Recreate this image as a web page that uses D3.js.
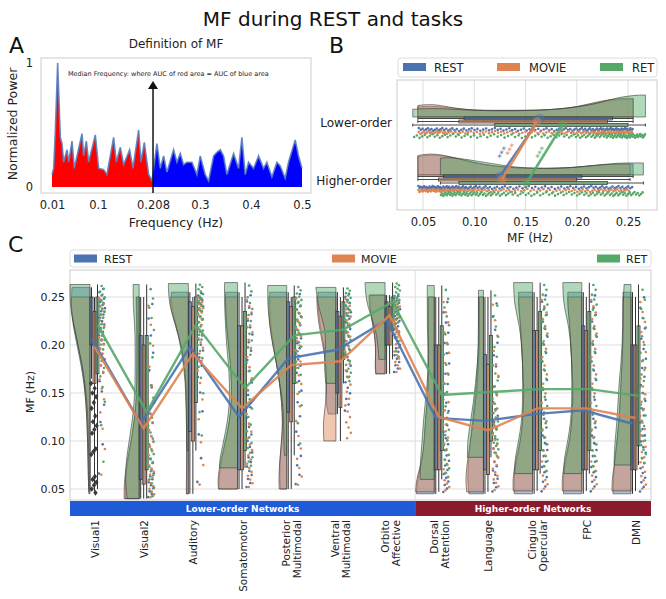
<!DOCTYPE html>
<html><head><meta charset="utf-8">
<script src="https://cdn.jsdelivr.net/npm/d3@7"></script>
<style>body{margin:0;background:#fff}svg{font-family:"DejaVu Sans",sans-serif}</style>
</head><body><svg id="c" width="666" height="599"></svg>
<script>
// ---------------- DATA ----------------
// Panel A: example power spectrum
const specFreq = [0.010,0.0133,0.0165,0.0211,0.0263,0.0296,0.0329,0.0394,0.0427,0.0492,0.0537,0.0688,0.0720,0.0773,0.0818,0.0949,0.1014,0.1112,0.1177,0.1308,0.1360,0.1439,0.1504,0.1621,0.1687,0.1798,0.1844,0.1909,0.1994,0.2059,0.2157,0.2222,0.2288,0.2353,0.2483,0.2549,0.2614,0.2679,0.2745,0.2843,0.2941,0.3006,0.3104,0.3169,0.3267,0.3332,0.3398,0.3463,0.3528,0.3659,0.3757,0.3822,0.3887,0.3953,0.4051,0.4149,0.4247,0.4312,0.4410,0.4508,0.4573,0.4671,0.4736,0.4867,0.4932,0.500];
const specPower = [0.10,0.15,0.45,1.00,0.40,0.35,0.20,0.30,0.20,0.37,0.15,0.43,0.25,0.37,0.20,0.42,0.15,0.14,0.10,0.40,0.20,0.32,0.18,0.30,0.15,0.46,0.20,0.36,0.10,0.05,0.35,0.15,0.25,0.12,0.30,0.20,0.27,0.18,0.20,0.20,0.10,0.25,0.10,0.05,0.25,0.28,0.30,0.25,0.10,0.27,0.15,0.40,0.10,0.20,0.15,0.25,0.15,0.20,0.08,0.20,0.17,0.07,0.20,0.38,0.25,0.15];
const medianFreq = 0.208;
const specTicks = [0.01,0.1,0.208,0.3,0.4,0.5];

const conditions = ["REST","MOVIE","RET"];
const densityGrid = [0.04,0.06,0.08,0.10,0.12,0.14,0.16,0.18,0.20,0.22,0.24,0.26];

// Panel B: grouped networks
const groups = ["Lower-order","Higher-order"];
const bRestDensity  = [[.45,.5,.4,.3,.3,.3,.3,.35,.45,.65,.8,.8],[.8,.95,.8,.55,.4,.32,.3,.3,.35,.45,.5,.5]];
const bMovieDensity = [[.5,.6,.4,.3,.3,.3,.3,.35,.45,.7,.85,.85],[.85,1,.8,.55,.4,.32,.3,.3,.35,.45,.5,.5]];
const bRetDensity   = [[.35,.4,.35,.3,.28,.28,.3,.35,.45,.6,.9,1],[.75,.75,.8,.65,.5,.35,.3,.3,.35,.45,.55,.55]];
const bRestMin = [0.045,0.045], bRestMax = [0.255,0.255];
const bMovieMin = [0.045,0.045], bMovieMax = [0.255,0.252];
const bRetMin = [0.040,0.067], bRetMax = [0.267,0.265];
const bRestQ1 = [0.09,0.07], bRestQ3 = [0.235,0.205];
const bMovieQ1 = [0.085,0.065], bMovieQ3 = [0.23,0.20];
const bRetQ1 = [0.12,0.085], bRetQ3 = [0.25,0.23];
const bRestMedian = [0.164,0.125];
const bMovieMedian = [0.161,0.127];
const bRetMedian = [0.186,0.151];
const bTicks = [0.05,0.10,0.15,0.20,0.25];

// Panel C: per network
const networks = ["Visual1","Visual2","Auditory","Somatomotor","Posterior Multimodal","Ventral Multimodal","Orbito Affective","Dorsal Attention","Language","Cingulo Opercular","FPC","DMN"];
const networkLabelLines = [["Visual1"],["Visual2"],["Auditory"],["Somatomotor"],["Posterior","Multimodal"],["Ventral","Multimodal"],["Orbito","Affective"],["Dorsal","Attention"],["Language"],["Cingulo","Opercular"],["FPC"],["DMN"]];
const lowerCount = 7;
const restMedian  = [0.207,0.118,0.198,0.125,0.186,0.195,0.226,0.124,0.121,0.128,0.132,0.118];
const movieMedian = [0.198,0.113,0.191,0.134,0.179,0.183,0.231,0.125,0.111,0.134,0.134,0.124];
const retMedian   = [0.221,0.130,0.221,0.155,0.210,0.216,0.245,0.148,0.151,0.154,0.154,0.147];
const restMin  = [0.045,0.040,0.045,0.050,0.050,0.128,0.170,0.045,0.045,0.045,0.045,0.045];
const restMax  = [0.260,0.250,0.255,0.255,0.255,0.255,0.252,0.250,0.250,0.255,0.255,0.255];
const movieMin = [0.047,0.040,0.045,0.050,0.050,0.100,0.170,0.047,0.047,0.048,0.048,0.048];
const movieMax = [0.250,0.250,0.250,0.250,0.250,0.250,0.252,0.250,0.250,0.250,0.250,0.250];
const retMin   = [0.050,0.040,0.090,0.072,0.085,0.160,0.185,0.060,0.083,0.066,0.066,0.075];
const retMax   = [0.263,0.263,0.264,0.265,0.262,0.260,0.265,0.262,0.257,0.265,0.265,0.263];
const restWhiskerLo = [0.165,0.040,0.045,0.050,0.050,0.128,0.170,0.045,0.045,0.045,0.045,0.045];
const restQ1  = [0.200,0.060,0.110,0.070,0.130,0.150,0.200,0.070,0.070,0.070,0.070,0.070];
const restQ3  = [0.250,0.210,0.245,0.220,0.245,0.235,0.245,0.200,0.190,0.215,0.220,0.200];
const movieQ1 = [0.160,0.055,0.100,0.070,0.120,0.135,0.200,0.070,0.065,0.070,0.070,0.070];
const movieQ3 = [0.235,0.200,0.240,0.220,0.240,0.230,0.240,0.200,0.180,0.215,0.215,0.200];
const retQ1   = [0.170,0.070,0.140,0.090,0.160,0.185,0.215,0.090,0.100,0.090,0.090,0.095];
const retQ3   = [0.250,0.210,0.250,0.235,0.250,0.245,0.250,0.220,0.210,0.235,0.235,0.220];
const restDensity = [
 [.05,.08,.1,.12,.15,.2,.3,.45,.65,.85,.95,.9],
 [.7,.7,.55,.4,.25,.15,.12,.12,.12,.12,.15,.15],
 [.08,.08,.08,.08,.08,.1,.12,.2,.35,.6,.85,.85],
 [.9,.95,.8,.6,.4,.3,.3,.35,.45,.55,.6,.6],
 [.3,.35,.35,.25,.2,.25,.35,.5,.65,.8,.85,.85],
 [0,0,0,0,.3,.5,.5,.5,.6,.8,.9,.9],
 [0,0,0,0,0,0,.4,.5,.45,.6,.75,.75],
 [.9,.85,.6,.5,.45,.35,.3,.3,.3,.3,.3,.3],
 [.7,.8,.75,.65,.55,.45,.35,.3,.25,.25,.25,.25],
 [.9,.95,.8,.6,.5,.45,.45,.5,.55,.6,.7,.7],
 [.9,.95,.8,.6,.5,.45,.45,.5,.55,.6,.7,.7],
 [.9,.9,.8,.7,.6,.55,.5,.45,.4,.4,.4,.4]];
const movieDensity = [
 [.05,.08,.1,.12,.15,.2,.28,.4,.6,.8,.95,.9],
 [.75,.75,.6,.4,.25,.15,.12,.1,.1,.1,.12,.12],
 [.1,.1,.08,.08,.08,.1,.12,.2,.35,.65,.9,.9],
 [.9,1,.85,.6,.4,.3,.3,.35,.45,.55,.6,.6],
 [.35,.4,.35,.25,.2,.25,.35,.5,.7,.85,.9,.9],
 [0,0,0,.6,.65,.5,.45,.5,.65,.85,.95,.95],
 [0,0,0,0,0,0,.45,.5,.45,.6,.8,.8],
 [.95,.9,.6,.5,.45,.35,.3,.3,.3,.3,.3,.3],
 [.8,.9,.8,.65,.5,.4,.3,.25,.2,.2,.2,.2],
 [.95,1,.85,.6,.5,.45,.45,.5,.55,.6,.7,.7],
 [.95,1,.85,.6,.5,.45,.45,.5,.55,.6,.7,.7],
 [.95,.95,.8,.7,.6,.55,.5,.45,.4,.4,.4,.4]];
const retDensity = [
 [.04,.05,.06,.08,.1,.15,.25,.4,.6,.8,1,1],
 [.6,.7,.65,.5,.35,.25,.2,.2,.2,.22,.3,.3],
 [0,0,.05,.08,.1,.12,.15,.25,.4,.6,.95,1],
 [0,.9,.9,.7,.5,.4,.4,.45,.55,.6,.65,.65],
 [0,0,.1,.15,.15,.2,.35,.5,.7,.85,.95,.95],
 [0,0,0,0,0,0,.5,.6,.5,.55,.9,1],
 [0,0,0,0,0,0,0,.3,.35,.5,.9,1],
 [0,.7,.7,.6,.55,.45,.35,.3,.3,.35,.35,.35],
 [0,0,.8,.8,.65,.5,.4,.3,.25,.25,.25,.25],
 [0,.9,.9,.7,.55,.5,.5,.5,.55,.65,.9,.95],
 [0,.9,.9,.7,.55,.5,.5,.5,.55,.65,.9,.95],
 [0,.8,.85,.8,.7,.65,.6,.5,.45,.4,.4,.35]];
const visual1RestFliers = [0.160,0.155,0.150,0.146,0.140,0.134,0.126,0.120,0.116,0.112,0.108,0.092,0.089,0.086,0.063,0.060,0.057,0.054,0.050,0.046];
const cTicks = [0.05,0.10,0.15,0.20,0.25];

// ---------------- HELPERS ----------------
const hueColors = ["#4c72b0","#dd8452","#55a868"];
const svg = d3.select("#c");

function widthAt(dens, v){
  const g = densityGrid, n = g.length;
  if (v <= g[0]) return dens[0];
  if (v >= g[n-1]) return dens[n-1];
  let i = Math.min(n-2, Math.floor((v-g[0])/(g[1]-g[0])));
  const t = (v-g[i])/(g[i+1]-g[i]);
  return dens[i]*(1-t) + dens[i+1]*t;
}
function violinPts(dens, lo, hi){
  const pts = [[lo, widthAt(dens, lo)]];
  densityGrid.forEach((g,i)=>{ if (g > lo+1e-6 && g < hi-1e-6) pts.push([g, dens[i]]); });
  pts.push([hi, widthAt(dens, hi)]);
  return pts;
}
function quantileSamples(dens, lo, hi, n){
  const m = 300, xs = [], cdf = [0];
  for (let k=0;k<=m;k++) xs.push(lo + (hi-lo)*k/m);
  for (let k=1;k<=m;k++) cdf.push(cdf[k-1] + (widthAt(dens,xs[k])+widthAt(dens,xs[k-1]))/2);
  const tot = cdf[m], out = [];
  for (let j=0;j<n;j++){
    const target = (j+0.5)/n*tot;
    let k = Math.max(1, Math.min(m, d3.bisectLeft(cdf, target)));
    const t = (target-cdf[k-1])/((cdf[k]-cdf[k-1])||1);
    out.push(xs[k-1] + t*(xs[k]-xs[k-1]));
  }
  return out;
}
function jit(j, h){ return ((j*0.618034 + h*0.37) % 1); }

// ---------------- TITLE & LETTERS ----------------
svg.append("text").attr("x",333).attr("y",26).attr("text-anchor","middle").attr("font-size",20).attr("fill","#111").text("MF during REST and tasks");
[["A",9,53],["B",329,53],["C",8,252]].forEach(([t,x,y])=>svg.append("text").attr("x",x).attr("y",y).attr("font-size",22).attr("fill","#111").text(t));

// ---------------- PANEL A ----------------
{
  const g = svg.append("g");
  const xA = d3.scaleLinear().domain([0.01,0.5]).range([52,302]);
  const yA = d3.scaleLinear().domain([0,1]).range([187,63]);
  const spec = specFreq.map((f,i)=>[f, specPower[i]]);
  g.append("text").attr("x",176).attr("y",48).attr("text-anchor","middle").attr("font-size",12).attr("fill","#222").text("Definition of MF");
  const defs = svg.append("defs");
  defs.append("clipPath").attr("id","clipL").append("rect").attr("x",0).attr("y",0).attr("width",xA(medianFreq)).attr("height",599);
  defs.append("clipPath").attr("id","clipR").append("rect").attr("x",xA(medianFreq)).attr("y",0).attr("width",400).attr("height",599);
  const area = d3.area().x(d=>xA(d[0])).y0(yA(0)).y1(d=>yA(d[1]));
  g.append("path").datum(spec).attr("d",area).attr("fill","#ff0000").attr("clip-path","url(#clipL)");
  g.append("path").datum(spec).attr("d",area).attr("fill","#0000ff").attr("clip-path","url(#clipR)");
  g.append("path").datum(spec).attr("d",d3.line().x(d=>xA(d[0])).y(d=>yA(d[1]))).attr("fill","none").attr("stroke","#5a7fc0").attr("stroke-width",1.6).attr("opacity",0.9);
  g.append("rect").attr("x",41).attr("y",58).attr("width",270).attr("height",135).attr("fill","none").attr("stroke","#cccccc");
  const ax = xA(medianFreq);
  g.append("line").attr("x1",ax).attr("x2",ax).attr("y1",193).attr("y2",88).attr("stroke","#111").attr("stroke-width",1.5);
  g.append("path").attr("d",`M${ax},81L${ax-5},89L${ax+5},89Z`).attr("fill","#111");
  g.append("text").attr("x",68).attr("y",76).attr("font-size",6.5).attr("fill","#222").text("Median Frequency: where AUC of red area = AUC of blue area");
  const xAxis = d3.axisBottom(xA).tickValues(specTicks).tickFormat(d=>String(d)).tickSize(0).tickPadding(8);
  const ga = g.append("g").attr("transform","translate(0,193)").call(xAxis);
  ga.select(".domain").remove();
  ga.selectAll("text").attr("font-size",11.5).attr("fill","#222").attr("font-family","DejaVu Sans");
  const yAxis = d3.axisLeft(yA).tickValues([0,1]).tickFormat(d3.format("d")).tickSize(0).tickPadding(6);
  const gy = g.append("g").attr("transform","translate(39,0)").call(yAxis);
  gy.select(".domain").remove();
  gy.selectAll("text").attr("font-size",11.5).attr("fill","#222").attr("font-family","DejaVu Sans");
  g.append("text").attr("x",176).attr("y",227).attr("text-anchor","middle").attr("font-size",12.5).attr("fill","#222").text("Frequency (Hz)");
  g.append("text").attr("transform","translate(17,124) rotate(-90)").attr("text-anchor","middle").attr("font-size",12.5).attr("fill","#222").text("Normalized Power");
}

// ---------------- PANEL B ----------------
{
  const g = svg.append("g");
  const xB = d3.scaleLinear().domain([0.05,0.25]).range([423,628]);
  const yGroup = d3.scalePoint().domain(groups).range([123,181]);
  const dens = [bRestDensity,bMovieDensity,bRetDensity];
  const mins = [bRestMin,bMovieMin,bRetMin], maxs = [bRestMax,bMovieMax,bRetMax];
  const q1s = [bRestQ1,bMovieQ1,bRetQ1], q3s = [bRestQ3,bMovieQ3,bRetQ3];
  const meds = [bRestMedian,bMovieMedian,bRetMedian];
  bTicks.forEach(t=>g.append("line").attr("x1",xB(t)).attr("x2",xB(t)).attr("y1",80).attr("y2",210).attr("stroke","#dddddd"));
  g.append("rect").attr("x",397).attr("y",80).attr("width",260).attr("height",130).attr("fill","none").attr("stroke","#cccccc");
  const baseOff = -6, hScale = 22;
  const rowOff = [-4.5,-1.5,2];
  groups.forEach((grp,gi)=>{
    const base = yGroup(grp) + baseOff;
    [0,1,2].forEach(h=>{
      const pts = violinPts(dens[h][gi], mins[h][gi], maxs[h][gi]);
      const ar = d3.area().x(d=>xB(d[0])).y0(base).y1(d=>base - d[1]*hScale).curve(d3.curveBasis);
      g.append("path").datum(pts).attr("d",ar).attr("fill",hueColors[h]).attr("fill-opacity",0.45).attr("stroke","#3d3d3d").attr("stroke-width",0.6);
    });
  });
  groups.forEach((grp,gi)=>{
    [0,1,2].forEach(h=>{
      const yc = yGroup(grp) + rowOff[h];
      g.append("line").attr("x1",xB(mins[h][gi])).attr("x2",xB(maxs[h][gi])).attr("y1",yc).attr("y2",yc).attr("stroke","#333").attr("stroke-width",0.9);
      [mins[h][gi],maxs[h][gi]].forEach(v=>g.append("line").attr("x1",xB(v)).attr("x2",xB(v)).attr("y1",yc-1.5).attr("y2",yc+1.5).attr("stroke","#333").attr("stroke-width",0.9));
      g.append("rect").attr("x",xB(q1s[h][gi])).attr("y",yc-1.5).attr("width",xB(q3s[h][gi])-xB(q1s[h][gi])).attr("height",3)
        .attr("fill",hueColors[h]).attr("fill-opacity",0.6).attr("stroke","#333").attr("stroke-width",0.7);
    });
  });
  const ptRows = [[5,8],[8,11],[11,15]];
  groups.forEach((grp,gi)=>{
    [0,1,2].forEach(h=>{
      const vals = quantileSamples(dens[h][gi], mins[h][gi], maxs[h][gi], 110);
      const y0 = yGroup(grp) + ptRows[h][0], y1 = yGroup(grp) + ptRows[h][1];
      vals.forEach((v,j)=>g.append("circle").attr("cx",xB(v)).attr("cy",y0 + jit(j,h)*(y1-y0)).attr("r",1.3).attr("fill",hueColors[h]));
    });
  });
  [0,1,2].forEach(h=>{
    const pts = groups.map((grp,gi)=>[xB(meds[h][gi]), yGroup(grp)+rowOff[h]]);
    g.append("path").datum(pts).attr("d",d3.line()).attr("stroke",hueColors[h]).attr("stroke-width",2.6).attr("fill","none").attr("opacity",0.9);
    pts.forEach(p=>g.append("circle").attr("cx",p[0]).attr("cy",p[1]).attr("r",4.5).attr("fill",hueColors[h]).attr("fill-opacity",0.5));
  });
  [[503,153,0],[511,150,1],[541,153,2]].forEach(([x,y,h])=>g.append("text").attr("transform",`translate(${x},${y}) rotate(-62)`).attr("text-anchor","middle").attr("dominant-baseline","central").attr("font-size",9).attr("fill",hueColors[h]).text("***"));
  groups.forEach(grp=>g.append("text").attr("x",392).attr("y",yGroup(grp)).attr("text-anchor","end").attr("dominant-baseline","central").attr("font-size",12).attr("fill","#222").text(grp));
  const xAxis = d3.axisBottom(xB).tickValues(bTicks).tickFormat(d3.format(".2f")).tickSize(0).tickPadding(8);
  const ga = g.append("g").attr("transform","translate(0,210)").call(xAxis);
  ga.select(".domain").remove();
  ga.selectAll("text").attr("font-size",11.5).attr("fill","#222").attr("font-family","DejaVu Sans");
  g.append("text").attr("x",530).attr("y",242).attr("text-anchor","middle").attr("font-size",12).attr("fill","#222").text("MF (Hz)");
  g.append("rect").attr("x",398).attr("y",58).attr("width",259).attr("height",19).attr("rx",3).attr("fill","#fff").attr("stroke","#dddddd");
  [[403,434],[497,529],[600,632]].forEach(([px,tx],h)=>{
    g.append("rect").attr("x",px).attr("y",63).attr("width",23).attr("height",8).attr("fill",hueColors[h]);
    g.append("text").attr("x",tx).attr("y",71.5).attr("font-size",11.5).attr("fill","#222").text(conditions[h]);
  });
}

// ---------------- PANEL C ----------------
{
  const g = svg.append("g");
  const xC = d3.scalePoint().domain(networks).range([95,636]);
  const yC = d3.scaleLinear().domain([0.05,0.25]).range([489,297]);
  const dens = [restDensity,movieDensity,retDensity];
  const mins = [restMin,movieMin,retMin], maxs = [restMax,movieMax,retMax];
  const wlo = [restWhiskerLo,movieMin,retMin];
  const q1s = [restQ1,movieQ1,retQ1], q3s = [restQ3,movieQ3,retQ3];
  const meds = [restMedian,movieMedian,retMedian];
  const L = 70, R = 651, T = 270, B = 500;
  cTicks.forEach(t=>g.append("line").attr("x1",L).attr("x2",R).attr("y1",yC(t)).attr("y2",yC(t)).attr("stroke","#dddddd"));
  const divX = (xC(networks[lowerCount-1]) + xC(networks[lowerCount]))/2 + 0.5;
  g.append("line").attr("x1",divX).attr("x2",divX).attr("y1",T).attr("y2",B).attr("stroke","#dddddd");
  g.append("rect").attr("x",L).attr("y",T).attr("width",R-L).attr("height",B-T).attr("fill","none").attr("stroke","#cccccc");
  const wScale = 20;
  networks.forEach((n,i)=>{
    const base = xC(n) - 5;
    [0,1,2].forEach(h=>{
      const pts = violinPts(dens[h][i], mins[h][i], maxs[h][i]);
      const ar = d3.area().y(d=>yC(d[0])).x0(base).x1(d=>base - d[1]*wScale).curve(d3.curveBasis);
      g.append("path").datum(pts).attr("d",ar).attr("fill",hueColors[h]).attr("fill-opacity",0.45).attr("stroke","#3d3d3d").attr("stroke-width",0.6);
    });
  });
  const boxOff = [-5,-2,1], bw = 3;
  networks.forEach((n,i)=>{
    [0,1,2].forEach(h=>{
      const x0 = xC(n) + boxOff[h], xm = x0 + bw/2;
      g.append("line").attr("x1",xm).attr("x2",xm).attr("y1",yC(wlo[h][i])).attr("y2",yC(maxs[h][i])).attr("stroke","#333").attr("stroke-width",1);
      g.append("rect").attr("x",x0).attr("y",yC(q3s[h][i])).attr("width",bw).attr("height",yC(q1s[h][i])-yC(q3s[h][i]))
        .attr("fill",hueColors[h]).attr("fill-opacity",0.55).attr("stroke","#3a3a3a").attr("stroke-width",0.8);
    });
  });
  visual1RestFliers.forEach((v,j)=>{
    const x = xC(networks[0]) - 4 + jit(j,0)*6, y = yC(v);
    g.append("path").attr("d",`M${x},${y-2.8}L${x+2.2},${y}L${x},${y+2.8}L${x-2.2},${y}Z`).attr("fill","#3a3a3a");
  });
  networks.forEach((n,i)=>{
    [0,1,2].forEach(h=>{
      const vals = quantileSamples(dens[h][i], mins[h][i], maxs[h][i], 28);
      vals.forEach((v,j)=>g.append("circle").attr("cx",xC(n) + 4 + jit(j,h)*6).attr("cy",yC(v)).attr("r",1.3).attr("fill",hueColors[h]));
    });
  });
  const lineOff = [-3.5,-0.5,2.5];
  [0,1,2].forEach(h=>{
    const pts = networks.map((n,i)=>[xC(n)+lineOff[h], yC(meds[h][i])]);
    g.append("path").datum(pts).attr("d",d3.line()).attr("stroke",hueColors[h]).attr("stroke-width",2.4).attr("fill","none").attr("opacity",0.9);
  });
  const yAxis = d3.axisLeft(yC).tickValues(cTicks).tickFormat(d3.format(".2f")).tickSize(0).tickPadding(5);
  const gy = g.append("g").attr("transform",`translate(${L},0)`).call(yAxis);
  gy.select(".domain").remove();
  gy.selectAll("text").attr("font-size",11).attr("fill","#222").attr("font-family","DejaVu Sans");
  g.append("text").attr("transform","translate(34,392) rotate(-90)").attr("text-anchor","middle").attr("font-size",11).attr("fill","#222").text("MF (Hz)");
  g.append("rect").attr("x",L).attr("y",501).attr("width",divX-L).attr("height",15).attr("fill","#1f5bd6");
  g.append("rect").attr("x",divX).attr("y",501).attr("width",R-divX).attr("height",15).attr("fill","#8b1a2d");
  g.append("text").attr("x",(L+divX)/2).attr("y",512).attr("text-anchor","middle").attr("font-size",9).attr("font-weight","bold").attr("fill","#fff").text("Lower-order Networks");
  g.append("text").attr("x",(divX+R)/2).attr("y",512).attr("text-anchor","middle").attr("font-size",9).attr("font-weight","bold").attr("fill","#fff").text("Higher-order Networks");
  networks.forEach((n,i)=>{
    const lines = networkLabelLines[i];
    const t = g.append("text").attr("transform",`translate(${xC(n)},520) rotate(-90)`).attr("text-anchor","end").attr("font-size",10.5).attr("fill","#222");
    lines.forEach((ln,k)=>t.append("tspan").attr("x",0).attr("y",(k-(lines.length-1)/2)*11).attr("dominant-baseline","central").text(ln));
  });
  g.append("rect").attr("x",L).attr("y",250).attr("width",R-L).attr("height",17).attr("rx",3).attr("fill","#fff").attr("stroke","#dddddd");
  [[74,104],[332,361],[597,626]].forEach(([px,tx],h)=>{
    g.append("rect").attr("x",px).attr("y",254.5).attr("width",23).attr("height",8).attr("fill",hueColors[h]);
    g.append("text").attr("x",tx).attr("y",262.5).attr("font-size",11).attr("fill","#222").text(conditions[h]);
  });
}
</script></body></html>
